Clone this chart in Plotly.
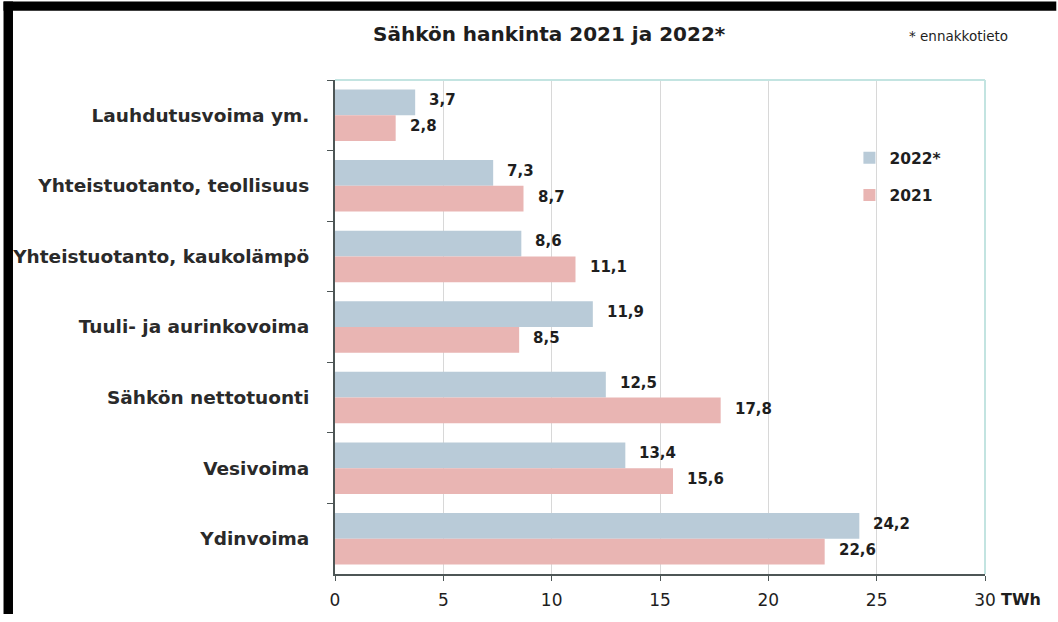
import plotly.graph_objects as go

# Electricity supply by source, TWh
categories = [
    "Lauhdutusvoima ym.",
    "Yhteistuotanto, teollisuus",
    "Yhteistuotanto, kaukolämpö",
    "Tuuli- ja aurinkovoima",
    "Sähkön nettotuonti",
    "Vesivoima",
    "Ydinvoima",
]
values_2022 = [3.7, 7.3, 8.6, 11.9, 12.5, 13.4, 24.2]
values_2021 = [2.8, 8.7, 11.1, 8.5, 17.8, 15.6, 22.6]
series_names = ["2022*", "2021"]
x_ticks = [0, 5, 10, 15, 20, 25, 30]

COLOR_2022 = "#b9cbd8"
COLOR_2021 = "#e9b5b3"
TEXT = "#1e1e1e"
AXIS = "#4d5656"
FRAME = "#c3e4e1"
GRID = "#d8d8d8"

W, H = 1058, 622
ML, MR, MT, MB = 333, 73, 80, 42
PW, PH = W - ML - MR, H - MT - MB

def fmt(v):
    return f"{v:.1f}".replace(".", ",")

def px_x(p):
    return (p - ML) / PW

def px_y(p):
    return (H - MB - p) / PH

fig = go.Figure()
for name, vals, col in [(series_names[0], values_2022, COLOR_2022),
                        (series_names[1], values_2021, COLOR_2021)]:
    fig.add_trace(go.Bar(
        y=categories, x=vals, name=name, orientation="h",
        marker=dict(color=col, line=dict(width=0)),
        legendgroup=name, hoverinfo="x+y",
    ))

# value labels to the right of each bar
bar_shift = 13
for vals, shift in [(values_2022, bar_shift + 2), (values_2021, -bar_shift + 2)]:
    for cat, v in zip(categories, vals):
        fig.add_annotation(
            x=v, y=cat, text=fmt(v), showarrow=False,
            xanchor="left", yanchor="middle", xshift=12, yshift=shift,
            font=dict(family="DejaVu Sans", size=15, color=TEXT, weight="bold"),
        )

# dark edge along the top and left of the page (kept inside the page bounds);
# light frame on the top and right of the plot area
shapes = [
    dict(type="rect", xref="paper", yref="paper", layer="below",
         x0=px_x(0.5), x1=px_x(W - 1.5), y0=px_y(0.5), y1=px_y(10),
         fillcolor="black", line=dict(width=0)),
    dict(type="rect", xref="paper", yref="paper", layer="below",
         x0=px_x(0.5), x1=px_x(10), y0=px_y(0.5), y1=px_y(H - 1.5),
         fillcolor="black", line=dict(width=0)),
    dict(type="line", xref="paper", yref="paper", x0=0, x1=1, y0=1, y1=1,
         line=dict(color=FRAME, width=2)),
    dict(type="line", xref="paper", yref="paper", x0=1, x1=1, y0=0, y1=1,
         line=dict(color=FRAME, width=2)),
]

fig.add_annotation(
    xref="paper", yref="paper", x=px_x(548), y=px_y(33),
    text="Sähkön hankinta 2021 ja 2022*", showarrow=False,
    xanchor="center", yanchor="middle",
    font=dict(family="DejaVu Sans", size=20, color=TEXT, weight="bold"),
)
fig.add_annotation(
    xref="paper", yref="paper", x=px_x(1010), y=px_y(35),
    text="* ennakkotieto", showarrow=False,
    xanchor="right", yanchor="middle",
    font=dict(family="DejaVu Sans", size=13.5, color=TEXT),
)
fig.add_annotation(
    xref="paper", yref="paper", x=px_x(999), y=px_y(606),
    text="TWh", showarrow=False, xanchor="left", yanchor="middle",
    font=dict(family="DejaVu Sans", size=16, color=TEXT, weight="bold"),
)

fig.update_layout(
    width=W, height=H,
    margin=dict(l=ML, r=MR, t=MT, b=MB, pad=0),
    paper_bgcolor="white", plot_bgcolor="white",
    barmode="group", bargap=0.27, bargroupgap=0,
    shapes=shapes,
    showlegend=True,
    legend=dict(
        x=px_x(849), y=px_y(142), xanchor="left", yanchor="top",
        bgcolor="rgba(0,0,0,0)", tracegroupgap=14, itemwidth=30,
        font=dict(family="DejaVu Sans", size=15.5, color=TEXT, weight="bold"),
        traceorder="grouped",
    ),
    font=dict(family="DejaVu Sans", color=TEXT),
)

fig.update_xaxes(
    range=[0, 30], tickvals=x_ticks, ticktext=[str(t) for t in x_ticks],
    showgrid=True, gridcolor=GRID, gridwidth=1,
    showline=True, linecolor=AXIS, linewidth=2,
    ticks="outside", ticklen=5, tickcolor=AXIS,
    ticklabelstandoff=5,
    zeroline=False, fixedrange=True,
    tickfont=dict(family="DejaVu Sans", size=17, color=TEXT),
)
fig.update_yaxes(
    categoryorder="array", categoryarray=categories, autorange="reversed",
    showgrid=False, showline=True, linecolor=AXIS, linewidth=2,
    ticks="outside", ticklen=6, tickcolor=AXIS, tickson="boundaries",
    ticklabelstandoff=20, fixedrange=True,
    tickfont=dict(family="DejaVu Sans", size=18.5, color="#2a2a2a", weight="bold"),
)

fig.write_html("out.html")
